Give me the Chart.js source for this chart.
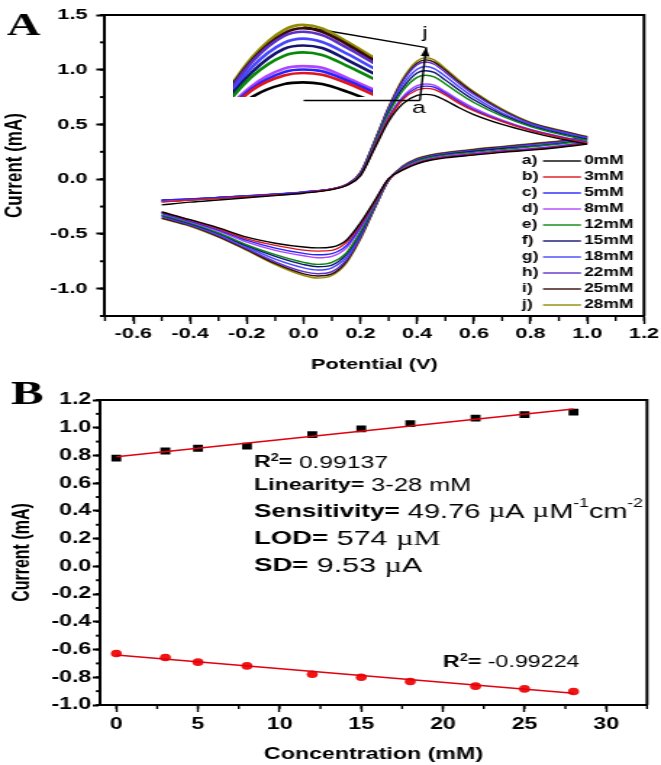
<!DOCTYPE html>
<html>
<head>
<meta charset="utf-8">
<script src="https://cdn.jsdelivr.net/npm/chart.js@4.4.1/dist/chart.umd.min.js"></script>
<style>
  body { margin: 0; background: #fff; }
  #wrap { position: relative; width: 661px; height: 765px; overflow: hidden; }
  canvas { position: absolute; }
</style>
</head>
<body>
<div id="wrap">
  <canvas id="cvChart" width="456" height="380" style="left:0;top:0;width:661px;height:380px"></canvas>
  <canvas id="insetChart" width="97" height="79" style="left:233px;top:18px;width:140px;height:79px;z-index:2"></canvas>
  <canvas id="calChart" width="456" height="385" style="left:0;top:380px;width:661px;height:385px"></canvas>
</div>
<script>
// ---- data ----
// panel A: cyclic voltammograms (potential in V, current in mA)
const potentialForward = [-0.5, -0.4, -0.3, -0.2, -0.1, 0.0, 0.1, 0.15, 0.2, 0.25, 0.3, 0.35, 0.4, 0.43, 0.46, 0.5, 0.55, 0.6, 0.7, 0.8, 0.9, 1.0];
const potentialReverse = [0.9, 0.8, 0.7, 0.6, 0.5, 0.45, 0.4, 0.35, 0.3, 0.25, 0.2, 0.15, 0.1, 0.05, 0.0, -0.1, -0.2, -0.3, -0.4, -0.5];

const fwd0mM  = [-0.235, -0.21, -0.19, -0.17, -0.15, -0.128, -0.095, -0.06, 0.03, 0.28, 0.53, 0.69, 0.765, 0.775, 0.765, 0.72, 0.65, 0.59, 0.50, 0.43, 0.37, 0.32];
const fwd3mM  = [-0.21, -0.19, -0.175, -0.16, -0.145, -0.125, -0.092, -0.057, 0.035, 0.29, 0.55, 0.73, 0.815, 0.83, 0.82, 0.77, 0.69, 0.625, 0.525, 0.445, 0.383, 0.331];
const fwd5mM  = [-0.19, -0.18, -0.168, -0.153, -0.138, -0.118, -0.089, -0.055, 0.04, 0.295, 0.56, 0.74, 0.835, 0.85, 0.84, 0.785, 0.705, 0.635, 0.53, 0.45, 0.388, 0.336];
const fwd8mM  = [-0.20, -0.185, -0.17, -0.155, -0.14, -0.12, -0.09, -0.055, 0.04, 0.30, 0.57, 0.755, 0.855, 0.87, 0.86, 0.80, 0.72, 0.65, 0.54, 0.455, 0.393, 0.34];
const fwd12mM = [-0.205, -0.19, -0.174, -0.158, -0.143, -0.122, -0.091, -0.055, 0.045, 0.315, 0.60, 0.81, 0.93, 0.95, 0.935, 0.87, 0.78, 0.70, 0.575, 0.48, 0.412, 0.357];
const fwd15mM = [-0.195, -0.183, -0.168, -0.153, -0.138, -0.118, -0.089, -0.053, 0.05, 0.325, 0.615, 0.835, 0.97, 0.99, 0.975, 0.905, 0.81, 0.725, 0.59, 0.49, 0.421, 0.365];
const fwd18mM = [-0.19, -0.18, -0.166, -0.151, -0.136, -0.116, -0.088, -0.052, 0.05, 0.33, 0.63, 0.865, 1.005, 1.03, 1.01, 0.94, 0.84, 0.75, 0.605, 0.50, 0.431, 0.373];
const fwd22mM = [-0.195, -0.183, -0.168, -0.153, -0.138, -0.118, -0.089, -0.052, 0.055, 0.34, 0.645, 0.895, 1.045, 1.07, 1.05, 0.975, 0.87, 0.775, 0.625, 0.51, 0.44, 0.382];
const fwd25mM = [-0.205, -0.19, -0.172, -0.157, -0.142, -0.121, -0.09, -0.051, 0.058, 0.345, 0.655, 0.905, 1.06, 1.09, 1.07, 0.995, 0.885, 0.79, 0.632, 0.515, 0.445, 0.386];
const fwd28mM = [-0.20, -0.185, -0.17, -0.155, -0.14, -0.12, -0.09, -0.05, 0.06, 0.35, 0.66, 0.92, 1.08, 1.11, 1.09, 1.01, 0.90, 0.80, 0.64, 0.52, 0.45, 0.39];

const rev0mM  = [0.29, 0.265, 0.245, 0.22, 0.195, 0.175, 0.14, 0.085, 0.005, -0.20, -0.40, -0.56, -0.62, -0.628, -0.62, -0.585, -0.53, -0.445, -0.37, -0.30];
const rev3mM  = [0.295, 0.27, 0.25, 0.225, 0.20, 0.18, 0.145, 0.09, 0.0, -0.21, -0.415, -0.58, -0.65, -0.657, -0.648, -0.605, -0.545, -0.455, -0.375, -0.30];
const rev5mM  = [0.30, 0.275, 0.255, 0.23, 0.205, 0.185, 0.15, 0.09, 0.0, -0.215, -0.435, -0.61, -0.68, -0.691, -0.678, -0.63, -0.56, -0.465, -0.385, -0.31];
const rev8mM  = [0.305, 0.28, 0.26, 0.235, 0.21, 0.19, 0.155, 0.095, 0.0, -0.22, -0.45, -0.63, -0.705, -0.718, -0.70, -0.65, -0.575, -0.475, -0.39, -0.315];
const rev12mM = [0.32, 0.295, 0.27, 0.245, 0.22, 0.20, 0.165, 0.10, -0.005, -0.235, -0.48, -0.675, -0.76, -0.778, -0.76, -0.69, -0.60, -0.49, -0.40, -0.325];
const rev15mM = [0.325, 0.30, 0.28, 0.255, 0.225, 0.205, 0.17, 0.105, -0.005, -0.24, -0.495, -0.69, -0.785, -0.80, -0.78, -0.705, -0.61, -0.495, -0.405, -0.33];
const rev18mM = [0.33, 0.305, 0.285, 0.26, 0.23, 0.21, 0.175, 0.11, -0.005, -0.25, -0.51, -0.715, -0.81, -0.83, -0.81, -0.73, -0.62, -0.505, -0.41, -0.34];
const rev22mM = [0.34, 0.315, 0.29, 0.265, 0.235, 0.215, 0.18, 0.115, -0.01, -0.26, -0.53, -0.74, -0.845, -0.864, -0.845, -0.755, -0.635, -0.515, -0.42, -0.345];
const rev25mM = [0.345, 0.32, 0.295, 0.27, 0.24, 0.22, 0.185, 0.118, -0.01, -0.265, -0.54, -0.755, -0.865, -0.884, -0.865, -0.77, -0.645, -0.525, -0.425, -0.355];
const rev28mM = [0.35, 0.325, 0.30, 0.275, 0.245, 0.225, 0.19, 0.12, -0.01, -0.27, -0.55, -0.77, -0.88, -0.903, -0.88, -0.78, -0.65, -0.53, -0.43, -0.36];

const curveLetters = ['a)', 'b)', 'c)', 'd)', 'e)', 'f)', 'g)', 'h)', 'i)', 'j)'];
const concLabels = ['0mM', '3mM', '5mM', '8mM', '12mM', '15mM', '18mM', '22mM', '25mM', '28mM'];
const curveColors = ['#000000', '#e0141c', '#2424ff', '#b044ff', '#08880a', '#141470', '#4646ff', '#5a30c8', '#3a0808', '#8e8e00'];
const forwardSets = [fwd0mM, fwd3mM, fwd5mM, fwd8mM, fwd12mM, fwd15mM, fwd18mM, fwd22mM, fwd25mM, fwd28mM];
const reverseSets = [rev0mM, rev3mM, rev5mM, rev8mM, rev12mM, rev15mM, rev18mM, rev22mM, rev25mM, rev28mM];

// panel B: calibration (concentration in mM, peak current in mA)
const concentrations = [0, 3, 5, 8, 12, 15, 18, 22, 25, 28];
const anodicPeak = [0.78, 0.832, 0.852, 0.868, 0.951, 0.991, 1.03, 1.07, 1.095, 1.112];
const cathodicPeak = [-0.628, -0.657, -0.691, -0.718, -0.778, -0.80, -0.83, -0.864, -0.884, -0.903];
const fitConc = [0, 28];
const anodicFit = [0.79, 1.135];
const cathodicFit = [-0.64, -0.915];

// ---- page set-up ----
// the figure is stretched sideways, so canvases are drawn narrow and widened by CSS
const SX = 661 / 456;
Chart.defaults.font.family = '"Liberation Sans", Arial, sans-serif';
Chart.defaults.color = '#000';

const sansFamily = '"Liberation Sans", Arial, sans-serif';
const oneDecimal = v => (Math.abs(v) < 1e-9 ? 0 : v).toFixed(1);

// minor tick marks + closed frame around the plot area
const frameAndMinor = {
  id: 'frameAndMinor',
  afterDraw(chart, args, opts) {
    const ctx = chart.ctx;
    const area = chart.chartArea;
    const xs = chart.scales.x, ys = chart.scales.y;
    ctx.save();
    ctx.strokeStyle = '#000';
    // minor x ticks
    ctx.lineWidth = 1.4;
    const nx = Math.round((xs.max - opts.xStart) / opts.xStep);
    for (let k = 0; k <= nx; k++) {
      const px = xs.getPixelForValue(opts.xStart + k * opts.xStep);
      ctx.beginPath();
      ctx.moveTo(px, area.bottom);
      ctx.lineTo(px, area.bottom + opts.xLen);
      ctx.stroke();
    }
    // minor y ticks
    ctx.lineWidth = 2;
    const ny = Math.round((ys.max - opts.yStart) / opts.yStep);
    for (let k = 0; k <= ny; k++) {
      const py = ys.getPixelForValue(opts.yStart + k * opts.yStep);
      ctx.beginPath();
      ctx.moveTo(area.left, py);
      ctx.lineTo(area.left - opts.yLen, py);
      ctx.stroke();
    }
    // top and right border
    ctx.lineWidth = 2;
    ctx.beginPath();
    ctx.moveTo(area.left, area.top);
    ctx.lineTo(area.right, area.top);
    ctx.lineTo(area.right, area.bottom);
    ctx.stroke();
    ctx.restore();
  }
};

// legend, inset pointers and panel letter for panel A
const cvMarks = {
  id: 'cvMarks',
  afterDraw(chart) {
    const ctx = chart.ctx;
    const xs = chart.scales.x, ys = chart.scales.y;
    const P = (v, i) => [xs.getPixelForValue(v), ys.getPixelForValue(i)];
    ctx.save();

    // legend
    ctx.font = 'bold 12px ' + sansFamily;
    ctx.textBaseline = 'middle';
    ctx.textAlign = 'left';
    curveLetters.forEach((letter, i) => {
      const y = 161 + i * 16;
      ctx.fillStyle = '#000';
      ctx.fillText(letter, 522 / SX, y);
      ctx.fillText(concLabels[i], 584 / SX, y);
      ctx.strokeStyle = curveColors[i];
      ctx.lineWidth = 1.4;
      ctx.beginPath();
      ctx.moveTo(543 / SX, y);
      ctx.lineTo(581 / SX, y);
      ctx.stroke();
    });

    // pointer lines from inset to the peaks
    ctx.strokeStyle = '#000';
    ctx.lineWidth = 1.4;
    const line = (a, b) => { ctx.beginPath(); ctx.moveTo(a[0], a[1]); ctx.lineTo(b[0], b[1]); ctx.stroke(); };
    line(P(0.0, 1.393), P(0.428, 1.204));
    line(P(0.0, 0.719), P(0.41, 0.719));
    const s = P(0.41, 0.719), e = P(0.432, 1.205);
    line(s, e);
    const ang = Math.atan2(e[1] - s[1], e[0] - s[0]);
    ctx.fillStyle = '#000';
    ctx.beginPath();
    ctx.moveTo(e[0], e[1]);
    ctx.lineTo(e[0] - 9 * Math.cos(ang) + 3 * Math.sin(ang), e[1] - 9 * Math.sin(ang) - 3 * Math.cos(ang));
    ctx.lineTo(e[0] - 9 * Math.cos(ang) - 3 * Math.sin(ang), e[1] - 9 * Math.sin(ang) + 3 * Math.cos(ang));
    ctx.closePath();
    ctx.fill();

    ctx.font = '17px ' + sansFamily;
    ctx.textAlign = 'center';
    const pj = P(0.428, 1.33), pa = P(0.407, 0.645);
    ctx.fillText('j', pj[0], pj[1]);
    ctx.fillText('a', pa[0], pa[1]);

    // panel letter
    ctx.font = 'bold 32px "Liberation Serif", "Times New Roman", serif';
    ctx.textAlign = 'left';
    ctx.textBaseline = 'alphabetic';
    ctx.fillText('A', 7 / SX, 35);
    ctx.restore();
  }
};

// draws a row of text pieces with their own fonts
function drawRuns(ctx, x, y, runs) {
  let cx = x;
  runs.forEach(r => {
    ctx.font = r.font;
    ctx.fillText(r.text, cx, y + (r.dy || 0));
    cx += ctx.measureText(r.text).width;
  });
}

const calText = {
  id: 'calText',
  afterDraw(chart) {
    const ctx = chart.ctx;
    const sans = sansFamily;
    const serif = '"Liberation Serif", "Times New Roman", serif';
    ctx.save();
    ctx.fillStyle = '#000';
    ctx.textBaseline = 'middle';
    ctx.textAlign = 'left';
    const x0 = 254 / SX;
    drawRuns(ctx, x0, 83, [
      { text: 'R', font: 'bold 16px ' + sans },
      { text: '2', font: 'bold 10px ' + sans, dy: -5 },
      { text: '= ', font: 'bold 16px ' + sans },
      { text: '0.99137', font: '17px ' + sans }
    ]);
    drawRuns(ctx, x0, 106, [
      { text: 'Linearity=', font: 'bold 16px ' + sans },
      { text: ' 3-28 mM', font: '17.5px ' + sans }
    ]);
    drawRuns(ctx, x0, 132, [
      { text: 'Sensitivity=', font: 'bold 18px ' + sans },
      { text: ' 49.76 ', font: '20px ' + sans },
      { text: '\u00b5', font: '20px ' + serif },
      { text: 'A ', font: '20px ' + sans },
      { text: '\u00b5', font: '20px ' + serif },
      { text: 'M', font: '20px ' + sans },
      { text: '-1', font: '12px ' + sans, dy: -8 },
      { text: 'cm', font: '20px ' + sans },
      { text: '-2', font: '12px ' + sans, dy: -8 }
    ]);
    drawRuns(ctx, x0, 159, [
      { text: 'LOD=', font: 'bold 19px ' + sans },
      { text: ' 574 ', font: '21px ' + sans },
      { text: '\u00b5M', font: '21px ' + serif }
    ]);
    drawRuns(ctx, x0, 186, [
      { text: 'SD=', font: 'bold 19px ' + sans },
      { text: ' 9.53 ', font: '21px ' + sans },
      { text: '\u00b5', font: '21px ' + serif },
      { text: 'A', font: '21px ' + sans }
    ]);
    drawRuns(ctx, 443 / SX, 283, [
      { text: 'R', font: 'bold 16px ' + sans },
      { text: '2', font: 'bold 10px ' + sans, dy: -5 },
      { text: '= ', font: 'bold 16px ' + sans },
      { text: '-0.99224', font: '16px ' + sans }
    ]);
    ctx.font = 'bold 34px ' + serif;
    ctx.textBaseline = 'alphabetic';
    ctx.fillText('B', 11 / SX, 24);
    ctx.restore();
  }
};

// ---- panel A ----
const cvDatasets = [];
forwardSets.forEach((fwd, i) => {
  cvDatasets.push({
    data: potentialForward.map((v, k) => ({ x: v, y: fwd[k] })),
    borderColor: curveColors[i], borderWidth: 1.4, pointRadius: 0,
    cubicInterpolationMode: 'monotone'
  });
  const rev = [{ x: potentialForward[potentialForward.length - 1], y: fwd[fwd.length - 1] }]
    .concat(potentialReverse.map((v, k) => ({ x: v, y: reverseSets[i][k] })));
  cvDatasets.push({
    data: rev,
    borderColor: curveColors[i], borderWidth: 1.4, pointRadius: 0,
    cubicInterpolationMode: 'monotone'
  });
});

new Chart(document.getElementById('cvChart'), {
  type: 'line',
  data: { datasets: cvDatasets },
  options: {
    responsive: false, animation: false, devicePixelRatio: 1,
    layout: { padding: { left: 0, right: 17 / SX, top: 10, bottom: 0 } },
    plugins: {
      legend: { display: false }, tooltip: { enabled: false },
      frameAndMinor: { xStart: -0.7, xStep: 0.1, xLen: 5, yStart: -1.25, yStep: 0.25, yLen: 3.5 }
    },
    scales: {
      x: {
        type: 'linear', min: -0.7, max: 1.2,
        ticks: { stepSize: 0.2, includeBounds: false, font: { family: sansFamily, size: 15, weight: 'bold' }, color: '#000', padding: 1, callback: oneDecimal },
        grid: { drawOnChartArea: false, tickLength: 8, tickWidth: 1.4, tickColor: '#000' },
        border: { color: '#000', width: 2 },
        title: { display: true, text: 'Potential (V)', font: { family: sansFamily, size: 15, weight: 'bold' }, color: '#000', padding: { top: 0, bottom: 6 } },
        afterFit: s => { s.height = 64; }
      },
      y: {
        type: 'linear', min: -1.25, max: 1.5,
        ticks: { stepSize: 0.5, includeBounds: false, font: { family: sansFamily, size: 15, weight: 'bold' }, color: '#000', padding: 6, callback: oneDecimal },
        grid: { drawOnChartArea: false, tickLength: 6, tickWidth: 2, tickColor: '#000' },
        border: { color: '#000', width: 2 },
        title: { display: true, text: 'Current (mA)', font: { family: sansFamily, size: 17, weight: 'bold' }, color: '#000', padding: { top: 0, bottom: 0 } },
        afterFit: s => { s.width = 105 / SX; }
      }
    }
  },
  plugins: [frameAndMinor, cvMarks]
});

// ---- inset: zoom on the anodic peaks ----
new Chart(document.getElementById('insetChart'), {
  type: 'line',
  data: {
    datasets: forwardSets.map((fwd, i) => ({
      data: potentialForward.map((v, k) => ({ x: v, y: fwd[k] })),
      borderColor: curveColors[i], borderWidth: 2.6, pointRadius: 0,
      cubicInterpolationMode: 'monotone'
    }))
  },
  options: {
    responsive: false, animation: false, devicePixelRatio: 1,
    layout: { padding: 0 },
    plugins: { legend: { display: false }, tooltip: { enabled: false } },
    scales: {
      x: { type: 'linear', display: false, min: 0.32, max: 0.54 },
      y: { type: 'linear', display: false, min: 0.69, max: 1.15 }
    }
  }
});

// ---- panel B ----
new Chart(document.getElementById('calChart'), {
  type: 'line',
  data: {
    datasets: [
      { data: fitConc.map((c, k) => ({ x: c, y: anodicFit[k] })), borderColor: '#e00010', borderWidth: 1.5, pointRadius: 0 },
      { data: fitConc.map((c, k) => ({ x: c, y: cathodicFit[k] })), borderColor: '#e00010', borderWidth: 1.5, pointRadius: 0 },
      { data: concentrations.map((c, k) => ({ x: c, y: anodicPeak[k] })), showLine: false,
        pointStyle: 'rect', pointRadius: 4.8, backgroundColor: '#000', borderColor: '#000', borderWidth: 0 },
      { data: concentrations.map((c, k) => ({ x: c, y: cathodicPeak[k] })), showLine: false,
        pointStyle: 'circle', pointRadius: 3.8, backgroundColor: '#f01414', borderColor: '#f01414', borderWidth: 0 }
    ]
  },
  options: {
    responsive: false, animation: false, devicePixelRatio: 1,
    layout: { padding: { left: 0, right: 14 / SX, top: 20, bottom: 0 } },
    plugins: {
      legend: { display: false }, tooltip: { enabled: false },
      frameAndMinor: { xStart: 0, xStep: 2.5, xLen: 4, yStart: -1.0, yStep: 0.1, yLen: 2.8 }
    },
    scales: {
      x: {
        type: 'linear', min: -1, max: 32.5,
        ticks: { stepSize: 5, includeBounds: false, font: { family: sansFamily, size: 16, weight: 'bold' }, color: '#000', padding: 3 },
        grid: { drawOnChartArea: false, tickLength: 7, tickWidth: 1.4, tickColor: '#000' },
        border: { color: '#000', width: 2 },
        title: { display: true, text: 'Concentration (mM)', font: { family: sansFamily, size: 16, weight: 'bold' }, color: '#000', padding: { top: 0, bottom: 1 } },
        afterFit: s => { s.height = 60; }
      },
      y: {
        type: 'linear', min: -1.0, max: 1.2,
        ticks: { stepSize: 0.2, includeBounds: false, font: { family: sansFamily, size: 16, weight: 'bold' }, color: '#000', padding: 1, callback: oneDecimal },
        grid: { drawOnChartArea: false, tickLength: 5, tickWidth: 2, tickColor: '#000' },
        border: { color: '#000', width: 2 },
        title: { display: true, text: 'Current (mA)', font: { family: sansFamily, size: 16, weight: 'bold' }, color: '#000', padding: { top: 6, bottom: 0 } },
        afterFit: s => { s.width = 100 / SX; }
      }
    }
  },
  plugins: [frameAndMinor, calText]
});
</script>
</body>
</html>
